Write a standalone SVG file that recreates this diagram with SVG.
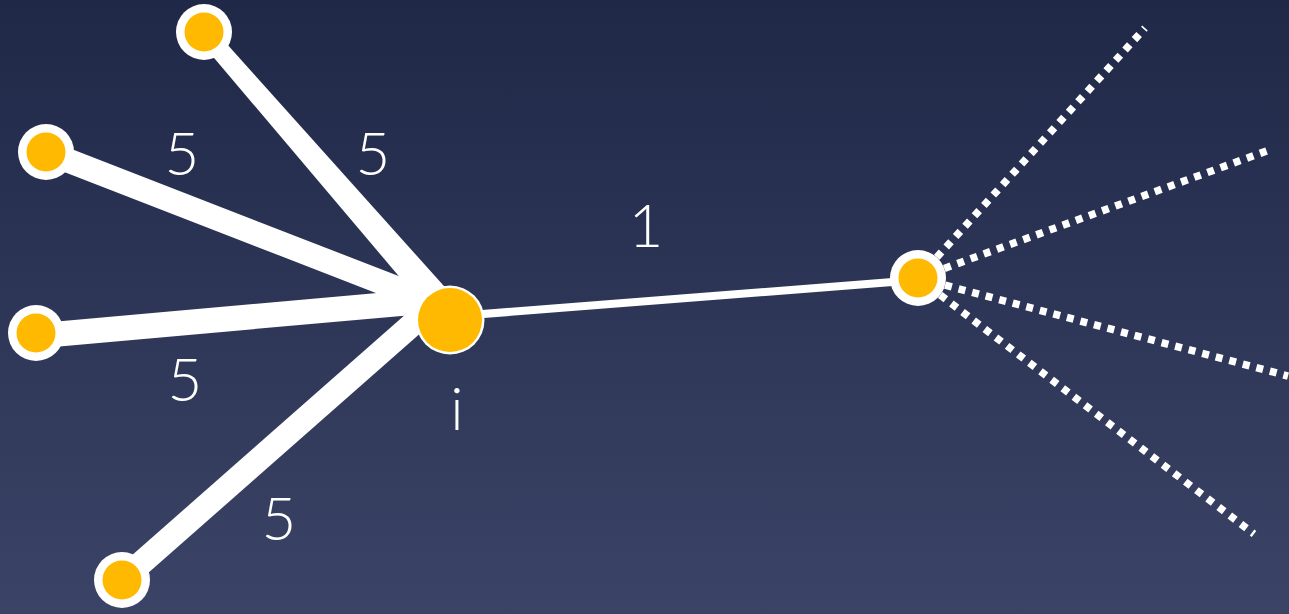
<svg xmlns="http://www.w3.org/2000/svg" width="1289" height="614" viewBox="0 0 1289 614">
  <defs>
    <linearGradient id="bg" x1="0" y1="0" x2="0" y2="1">
      <stop offset="0" stop-color="#1f2847"/>
      <stop offset="1" stop-color="#3b4466"/>
    </linearGradient>
    <style>
      .thick { stroke: #ffffff; stroke-linecap: butt; fill: none; }
      .wedge { fill: #ffffff; }
      .thin { stroke: #ffffff; stroke-width: 8; fill: none; }
      .dot { stroke: #ffffff; stroke-width: 7.5; stroke-dasharray: 7 7; fill: none; }
      .ring { fill: #ffffff; }
      .core { fill: #ffb900; }
      .lbl { font-family: Lato, "Open Sans", "Liberation Sans", sans-serif; font-weight: 300; font-size: 60px; fill: #ffffff; text-anchor: middle; }
    </style>
  </defs>
  <rect x="0" y="0" width="1289" height="614" fill="url(#bg)"/>

  <g id="connectors">
    <polygon class="wedge" points="210.8,26.1 444.6,286.8 423.4,305.2 197.2,37.9"/>
    <line class="thick" x1="46" y1="152" x2="440" y2="305" stroke-width="24"/>
    <line class="thick" x1="36" y1="336" x2="440" y2="300" stroke-width="25"/>
    <line class="thick" x1="122" y1="580" x2="440" y2="300" stroke-width="24"/>
    <line class="thin" x1="470" y1="315" x2="918" y2="280"/>
    <line class="dot" x1="918" y1="278" x2="1145" y2="28"/>
    <line class="dot" x1="918" y1="278" x2="1272" y2="149"/>
    <line class="dot" x1="918" y1="278" x2="1288" y2="376"/>
    <line class="dot" x1="918" y1="278" x2="1254" y2="534"/>
  </g>

  <g id="node-top">
    <circle class="ring" cx="204" cy="32" r="28"/>
    <circle class="core" cx="204" cy="32" r="19.5"/>
  </g>
  <g id="node-upper-left">
    <circle class="ring" cx="46" cy="152" r="28"/>
    <circle class="core" cx="46" cy="152" r="19.5"/>
  </g>
  <g id="node-left">
    <circle class="ring" cx="36" cy="333" r="28"/>
    <circle class="core" cx="36" cy="333" r="19.5"/>
  </g>
  <g id="node-bottom">
    <circle class="ring" cx="122" cy="580" r="28"/>
    <circle class="core" cx="122" cy="580" r="19.5"/>
  </g>
  <g id="node-right">
    <circle class="ring" cx="918" cy="278" r="28"/>
    <circle class="core" cx="918" cy="278" r="19.5"/>
  </g>
  <g id="node-i">
    <circle class="ring" cx="450" cy="320" r="34.5"/>
    <circle class="core" cx="450" cy="320" r="32"/>
  </g>

  <g id="labels">
    <text class="lbl" x="182" y="175">5</text>
    <text class="lbl" x="373" y="175">5</text>
    <text class="lbl" x="185" y="401">5</text>
    <text class="lbl" x="279" y="540">5</text>
    <text class="lbl" x="646" y="247">1</text>
    <text class="lbl" x="457" y="430">i</text>
  </g>
</svg>
